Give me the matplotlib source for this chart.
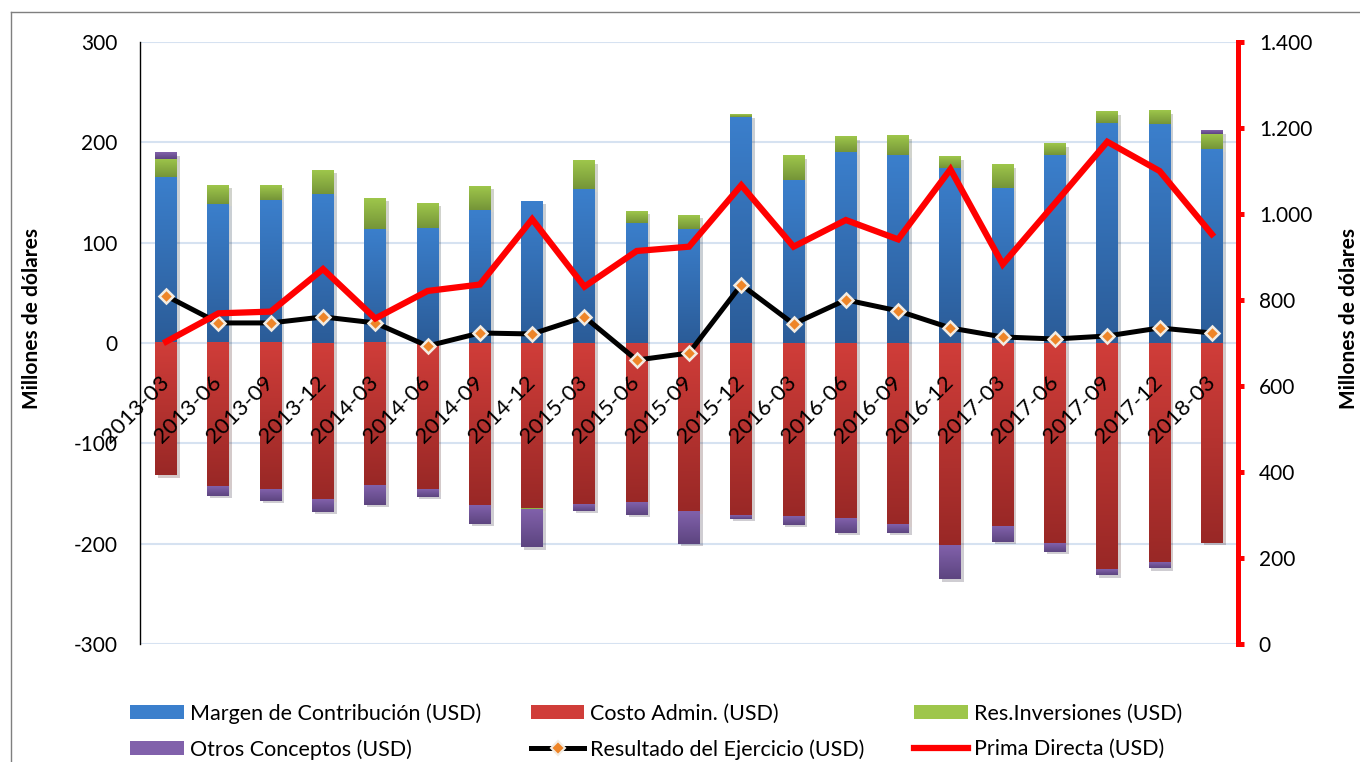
import numpy as np
import matplotlib.pyplot as plt
from matplotlib import patheffects as pe
from matplotlib.colors import to_rgb
from matplotlib.lines import Line2D
from matplotlib.patches import Patch
from matplotlib.ticker import FuncFormatter, MultipleLocator

plt.rcParams['font.family'] = ['Lato', 'DejaVu Sans']
plt.rcParams['axes.unicode_minus'] = False

# datos (millones de USD)
periodos = ['2013-03', '2013-06', '2013-09', '2013-12', '2014-03', '2014-06', '2014-09',
            '2014-12', '2015-03', '2015-06', '2015-09', '2015-12', '2016-03', '2016-06',
            '2016-09', '2016-12', '2017-03', '2017-06', '2017-09', '2017-12', '2018-03']
margen = [165, 139, 143, 149, 114, 115, 133, 141, 153, 120, 114, 225, 162, 190, 187, 174, 154, 187, 219, 218, 193]
costo = [-132, -143, -146, -156, -142, -146, -162, -165, -161, -159, -168, -172, -173, -175, -181, -202, -183, -200, -226, -219, -199]
inversiones = [18, 18, 14, 23, 30, 24, 23, -1.5, 28, 11, 13, 2, 24, 15, 19, 11, 23, 11, 11, 13, 15]
otros = [6, -9, -11, -12, -19, -7, -18, -37, -6, -12, -32, -3, -8, -14, -8, -33, -15, -8, -5, -5, 3]
resultado = [47, 20, 20, 26, 20, -3, 10, 9, 26, -17, -10, 58, 19, 43, 32, 15, 6, 4, 7, 15, 10]
prima = [703, 769, 773, 872, 757, 821, 836, 988, 831, 914, 924, 1067, 924, 986, 941, 1104, 883, 1025, 1168, 1100, 953]

nombres = ['Margen de Contribución (USD)', 'Costo Admin. (USD)', 'Res.Inversiones (USD)',
           'Otros Conceptos (USD)', 'Resultado del Ejercicio (USD)', 'Prima Directa (USD)']
# (color arriba, color abajo) del degradado
colores = [('#3b7fcc', '#2b5c98'), ('#d03d39', '#992826'),
           ('#9ec64b', '#759538'), ('#8161ab', '#5d4580')]


def barras_degradado(ax, x, alturas, bases, c_top, c_bot, ancho=0.42):
    bars = ax.bar(x, alturas, ancho, bottom=bases, color=c_top, linewidth=0, zorder=1,
                  path_effects=[pe.SimplePatchShadow(offset=(2, -2), alpha=0.22), pe.Normal()])
    arriba = np.array(to_rgb(c_top))
    abajo = np.array(to_rgb(c_bot))
    t = np.linspace(0, 1, 64)[:, None]
    img = (arriba * (1 - t) + abajo * t)[:, None, :]
    for b in bars:
        h = b.get_height()
        if h == 0:
            continue
        y0 = b.get_y()
        ax.imshow(img, extent=(b.get_x(), b.get_x() + b.get_width(), min(y0, y0 + h), max(y0, y0 + h)),
                  aspect='auto', origin='upper', zorder=1.1, interpolation='bilinear')
    return bars


fig = plt.figure(figsize=(13.6, 7.62), dpi=100)
ax = fig.add_axes([140 / 1360, 1 - 644 / 762, 1098 / 1360, 602 / 762])
x = np.arange(len(periodos))

for v in range(-300, 301, 100):
    ax.axhline(v, color='#d6e2f1', lw=1.5, zorder=0.5)

pos = np.zeros(len(x))
neg = np.zeros(len(x))
for serie, (c1, c2) in zip([margen, costo, inversiones, otros], colores):
    vals = np.array(serie, dtype=float)
    base = np.where(vals >= 0, pos, neg)
    barras_degradado(ax, x, vals, base, c1, c2)
    pos += np.clip(vals, 0, None)
    neg += np.clip(vals, None, 0)

ax.plot(x, resultado, color='black', lw=3.6, marker='D', ms=7, mfc='#ee8528', mec='#f3ece2',
        mew=1.8, zorder=3)

ax.set_xlim(-0.5, len(x) - 0.5)
ax.set_ylim(-300, 300)
ax.yaxis.set_major_locator(MultipleLocator(100))
ax.tick_params(axis='y', length=0, pad=16, labelsize=15)
ax.spines['bottom'].set_position(('data', 0))
ax.spines['bottom'].set_visible(False)
ax.spines['top'].set_visible(False)
ax.spines['right'].set_visible(False)
ax.spines['left'].set_linewidth(1)
ax.set_ylabel('Millones de dólares', fontsize=15, fontweight='bold')
ax.yaxis.set_label_coords(-0.089, 0.54)

ax2 = ax.twinx()
ax2.plot(x, prima, color='#ff0000', lw=4.5, zorder=4, solid_joinstyle='miter')
ax2.set_ylim(0, 1400)
ax2.yaxis.set_major_locator(MultipleLocator(200))
ax2.yaxis.set_major_formatter(FuncFormatter(lambda v, p: f'{v:,.0f}'.replace(',', '.')))
for s in ['top', 'bottom', 'left']:
    ax2.spines[s].set_visible(False)
ax2.spines['right'].set_color('#ff0000')
ax2.spines['right'].set_linewidth(3.6)
ax2.tick_params(axis='y', direction='out', length=4, width=3.6, color='#ff0000', pad=11, labelsize=15)
ax2.set_ylabel('Millones de dólares', fontsize=15, fontweight='bold')
ax2.yaxis.set_label_coords(1.092, 0.54)

# etiquetas de periodo giradas, bajo la linea de cero
ax.set_xticks(x)
ax.tick_params(axis='x', length=0, pad=26, labelsize=16)
ax.set_xticklabels(periodos, rotation=45, ha='right', va='center', rotation_mode='anchor', fontsize=16)

handles = [Patch(facecolor=c[0]) for c in colores]
handles.append(Line2D([], [], color='black', lw=3.6, marker='D', ms=7, mfc='#ee8528', mec='#f3ece2', mew=1.5))
handles.append(Line2D([], [], color='#ff0000', lw=4.5))
orden = [0, 3, 1, 4, 2, 5]
fig.legend([handles[i] for i in orden], [nombres[i] for i in orden], ncol=3, loc='upper left',
           bbox_to_anchor=(130 / 1360, 1 - 703 / 762), frameon=False, fontsize=15.5,
           handlelength=2.5, handleheight=0.65, handletextpad=0.28, columnspacing=2.3,
           labelspacing=0.72, borderaxespad=0, borderpad=0)

fig.add_artist(Line2D([11 / 1360, 11 / 1360], [0, 1 - 12 / 762], transform=fig.transFigure, color='#7f7f7f', lw=1))
fig.add_artist(Line2D([11 / 1360, 1], [1 - 12 / 762, 1 - 12 / 762], transform=fig.transFigure, color='#7f7f7f', lw=1))

fig.savefig('out.png', dpi=100)
